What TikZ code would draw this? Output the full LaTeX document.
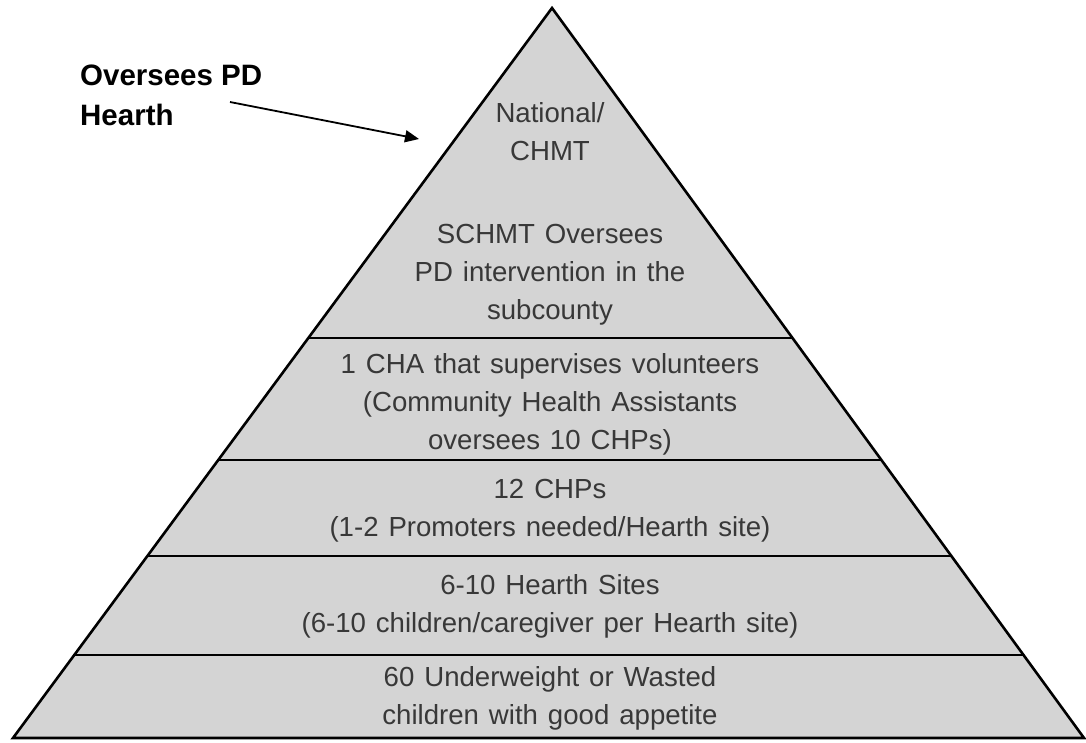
\documentclass[tikz,border=0pt]{standalone}
\usepackage{fontspec}
\setmainfont{Liberation Sans}
\usetikzlibrary{calc,arrows.meta}
\definecolor{tierfill}{HTML}{D4D4D4}
\definecolor{tiertext}{HTML}{383838}
\newcommand\tierfont{\fontsize{27.6}{38}\selectfont\spaceskip=0.36em\relax}
\tikzset{
  edge/.style={line width=2.6pt, line join=miter, draw=black},
  divider/.style={line width=2.6pt, draw=black},
  tierlabel/.style={text=tiertext, align=center, inner sep=0pt, font=\tierfont},
  calloutlabel/.style={align=left, inner sep=0pt, anchor=north west,
    font=\fontsize{29.5}{40}\selectfont\bfseries},
  callout/.style={line width=1.8pt, -{Triangle[length=14pt,width=12pt]}}
}
\begin{document}
\begin{tikzpicture}[x=1pt,y=-1pt]
  \useasboundingbox (0,0) rectangle (1086,742);
  % corners of the pyramid
  \coordinate (apex) at (552,8);
  \coordinate (bl) at (13,738);
  \coordinate (br) at (1084,738);
  \fill[tierfill] (apex) -- (bl) -- (br) -- cycle;
  % tier dividers, each running between the two slanted edges
  \foreach \name/\yy in {d1/338, d2/460, d3/556, d4/655} {
    \coordinate (\name l) at ($(bl)!{(738-\yy)/730}!(apex)$);
    \coordinate (\name r) at ($(br)!{(738-\yy)/730}!(apex)$);
    \draw[divider] (\name l) -- (\name r);
  }
  \draw[edge] (bl) -- (apex) -- (br) -- cycle;

  % tier texts
  \node[tierlabel] (t1) at (550,132) {National/\\CHMT};
  \node[tierlabel] (t2) at (550,274.5) {SCHMT Oversees\\PD intervention in the\\subcounty};
  \node[tierlabel] (t3) at (550,404.5) {1 CHA that supervises volunteers\\(Community Health Assistants\\oversees 10 CHPs)};
  \node[tierlabel] (t4) at (550,511) {12 CHPs\\(1-2 Promoters needed/Hearth site)};
  \node[tierlabel] (t5) at (550,606.5) {6-10 Hearth Sites\\(6-10 children/caregiver per Hearth site)};
  \node[tierlabel] (t6) at (550,698) {60 Underweight or Wasted\\children with good appetite};

  % callout pointing at the top tier
  \node[calloutlabel] (lead) at (80,65) {Oversees PD\\Hearth};
  \coordinate (leadstart) at (230,102);
  \coordinate (leadend) at (419,139);
  \draw[callout] (leadstart) -- (leadend);
\end{tikzpicture}
\end{document}
